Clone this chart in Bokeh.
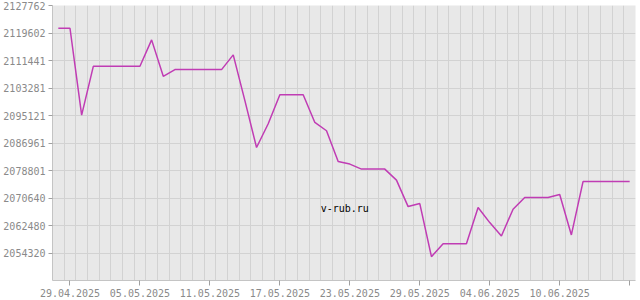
from datetime import datetime, timedelta
from bokeh.plotting import figure
from bokeh.models import Range1d, FixedTicker, DatetimeTickFormatter, Label
from bokeh.embed import file_html
from bokeh.resources import INLINE

start = datetime(2025, 4, 28)
values = [2121013, 2121013, 2095250, 2109716, 2109716, 2109716, 2109716, 2109716,
          2117565, 2106743, 2108735, 2108735, 2108735, 2108735, 2108735, 2113105,
          2099518, 2085635, 2092681, 2101302, 2101302, 2101302, 2093067, 2090600,
          2081472, 2080699, 2079213, 2079213, 2079213, 2075943, 2068094, 2068986,
          2053229, 2057094, 2057094, 2057094, 2067797, 2063337, 2059383, 2067321,
          2070770, 2070770, 2070770, 2071661, 2059680, 2075526, 2075526, 2075526,
          2075526, 2075526]
dates = [start + timedelta(days=i) for i in range(len(values))]

y_min = 2046160
y_max = 2127762
y_ticks = [2054320.2, 2062480.4, 2070640.6, 2078800.8, 2086961.0,
           2095121.1, 2103281.3, 2111441.5, 2119601.8, 2127762]
y_labels = ["2054320", "2062480", "2070640", "2078801", "2086961",
            "2095121", "2103281", "2111441", "2119602", "2127762"]
x_tick_dates = ["29.04.2025", "05.05.2025", "11.05.2025", "17.05.2025", "23.05.2025",
                "29.05.2025", "04.06.2025", "10.06.2025", "16.06.2025"]

def ms(d):
    return (d - datetime(1970, 1, 1)).total_seconds() * 1000.0

day = 86400000.0
x0 = ms(datetime(2025, 4, 29)) - 1.5 * day
x1 = ms(datetime(2025, 6, 16)) + 0.5 * day

p = figure(width=640, height=300, output_backend="svg", toolbar_location=None,
           x_axis_type="datetime",
           x_range=Range1d(x0, x1), y_range=Range1d(y_min, y_max),
           min_border_left=50, min_border_right=5, min_border_top=5, min_border_bottom=20)
p.background_fill_color = "#e8e8e8"
p.border_fill_color = "white"
p.outline_line_color = None

p.line(dates, values, line_color="#c03cb4", line_width=1.5)

xt = [ms(datetime.strptime(s, "%d.%m.%Y")) for s in x_tick_dates]
p.xaxis.ticker = FixedTicker(ticks=xt, minor_ticks=[])
p.xaxis.formatter = DatetimeTickFormatter(days="%d.%m.%Y", months="%d.%m.%Y", years="%d.%m.%Y")
# the last date runs off the right edge in the original; drawn separately at its tick
p.xaxis.major_label_overrides = {xt[-1]: ""}
p.yaxis.ticker = FixedTicker(ticks=y_ticks, minor_ticks=[])
p.yaxis.major_label_overrides = {t: l for t, l in zip(y_ticks, y_labels)}

p.xgrid.ticker = FixedTicker(ticks=[x0 + (k + 1) * day for k in range(50)])
p.ygrid.ticker = FixedTicker(ticks=y_ticks)
for g in (p.xgrid, p.ygrid):
    g.grid_line_color = "#d2d2d2"
    g.grid_line_width = 1

for ax in (p.xaxis, p.yaxis):
    ax.axis_line_color = "#c4c4c4"
    ax.major_tick_line_color = "#a0a0a0"
    ax.minor_tick_line_color = None
    ax.major_tick_in = 0
    ax.major_label_text_font = "DejaVu Sans Mono"
    ax.major_label_text_font_size = "10px"
    ax.major_label_text_color = "#8a8a8a"
p.xaxis.major_tick_out = 5
p.yaxis.major_tick_out = 4
p.xaxis.major_label_standoff = 3
p.yaxis.major_label_standoff = 3

span = y_max - y_min
p.add_layout(Label(x=xt[-1], y=y_min - span * 8.0 / 275, text=x_tick_dates[-1],
                   text_font="DejaVu Sans Mono", text_font_size="10px",
                   text_color="#8a8a8a", text_baseline="top", text_align="center"))

p.add_layout(Label(x=ms(datetime(2025, 5, 20, 12)), y=2067500, text="v-rub.ru",
                   text_font="DejaVu Sans Mono", text_font_size="10px",
                   text_color="black", text_baseline="middle", text_align="left"))

open("out.html", "w").write(file_html(p, INLINE))
